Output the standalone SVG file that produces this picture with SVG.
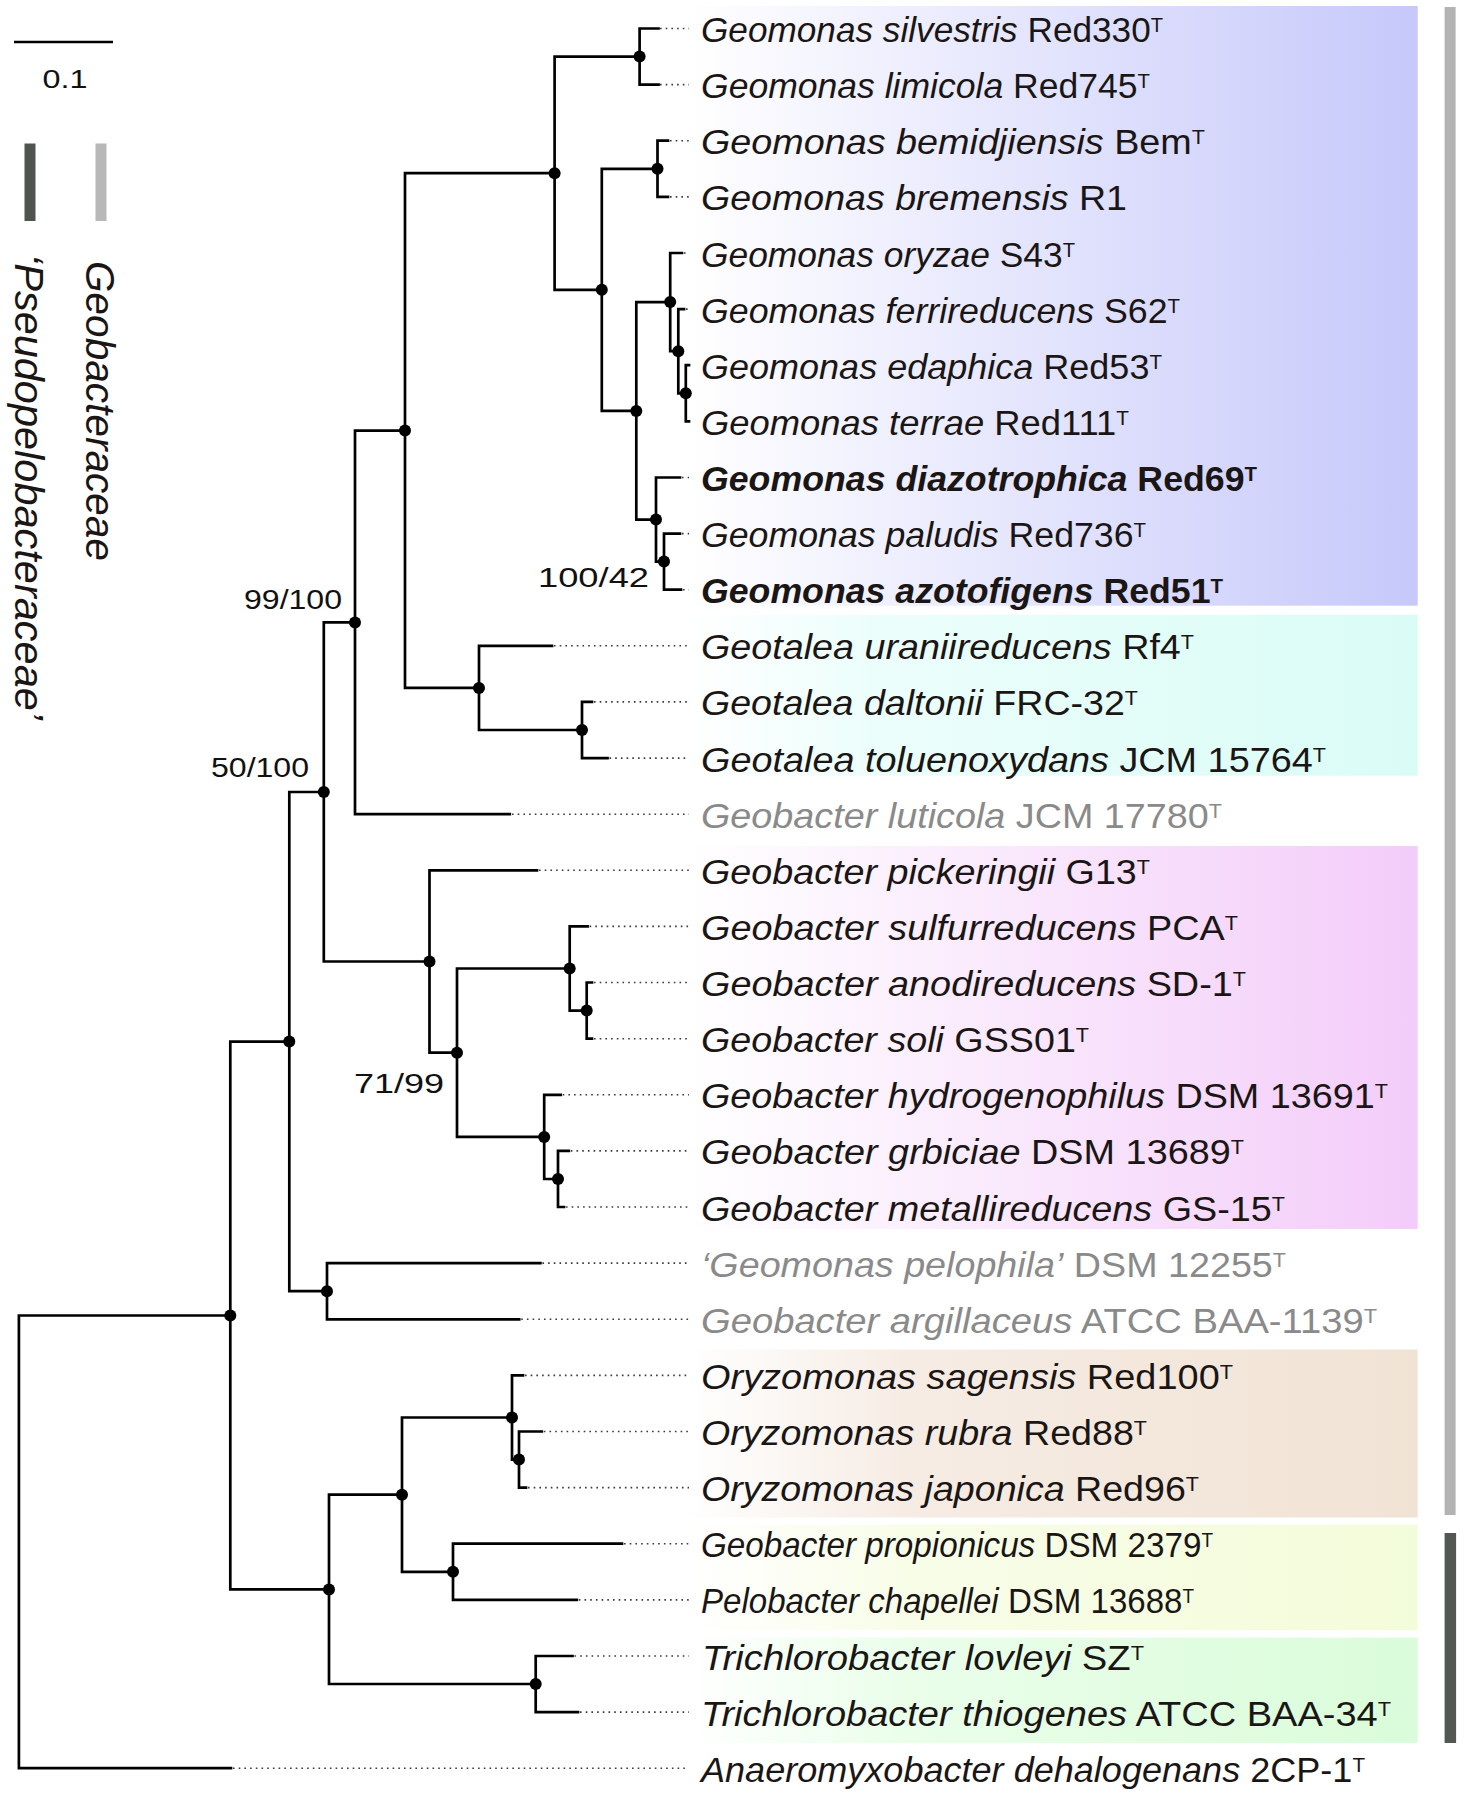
<svg xmlns="http://www.w3.org/2000/svg" width="1465" height="1797" viewBox="0 0 1465 1797">
<defs>
<linearGradient id="gBlue" x1="0" x2="1" y1="0" y2="0"><stop offset="0" stop-color="#ffffff"/><stop offset="1" stop-color="#c6c8fa"/></linearGradient>
<linearGradient id="gCyan" x1="0" x2="1" y1="0" y2="0"><stop offset="0" stop-color="#ffffff"/><stop offset="0.25" stop-color="#ecfefb"/><stop offset="1" stop-color="#dafcf6"/></linearGradient>
<linearGradient id="gPink" x1="0" x2="1" y1="0" y2="0"><stop offset="0" stop-color="#ffffff"/><stop offset="1" stop-color="#f3ccf9"/></linearGradient>
<linearGradient id="gTan" x1="0" x2="1" y1="0" y2="0"><stop offset="0" stop-color="#ffffff"/><stop offset="0.3" stop-color="#f6ece4"/><stop offset="1" stop-color="#f1e3d4"/></linearGradient>
<linearGradient id="gYel" x1="0" x2="1" y1="0" y2="0"><stop offset="0" stop-color="#ffffff"/><stop offset="0.3" stop-color="#f8fde8"/><stop offset="1" stop-color="#f3fcda"/></linearGradient>
<linearGradient id="gGrn" x1="0" x2="1" y1="0" y2="0"><stop offset="0" stop-color="#ffffff"/><stop offset="0.3" stop-color="#eafeea"/><stop offset="1" stop-color="#dafcda"/></linearGradient>
</defs>
<style>
.br{stroke:#000;stroke-width:2.7;fill:none;stroke-linecap:square}
.dt{stroke:#3a3a3a;stroke-width:1.6;stroke-dasharray:1.6 4.1;fill:none}
.nd{fill:#000}
.lb{font-family:"Liberation Sans",Arial,sans-serif;font-size:35px;fill:#1a1616}
.i{font-style:italic}
.sup{font-size:20px}
.gr{fill:#8a8a8a}
.bd{font-weight:bold}
.bs{font-family:"Liberation Sans",Arial,sans-serif;font-size:28px;fill:#111}
.fam{font-family:"Liberation Sans",Arial,sans-serif;font-size:40px;font-style:italic;fill:#1a1616}
</style>
<rect width="1465" height="1797" fill="#ffffff"/>

<g id="clade-backgrounds">
<rect x="686" y="6" width="731.7" height="599.7" fill="url(#gBlue)"/>
<rect x="686" y="614.8" width="731.7" height="160.9" fill="url(#gCyan)"/>
<rect x="686" y="846" width="731.7" height="383" fill="url(#gPink)"/>
<rect x="686" y="1349.5" width="731.7" height="168" fill="url(#gTan)"/>
<rect x="686" y="1524.6" width="731.7" height="105.4" fill="url(#gYel)"/>
<rect x="686" y="1637.6" width="731.7" height="105.4" fill="url(#gGrn)"/>
</g>

<g id="family-bars">
<rect x="1444.6" y="7" width="11" height="1508" fill="#b3b3b3"/>
<rect x="1444.6" y="1533" width="11.5" height="210" fill="#535854"/>
</g>

<g id="legend">
<g id="scale-bar">
<line x1="14" y1="42" x2="113" y2="42" stroke="#000" stroke-width="2.6"/>
<text class="bs" x="42.5" y="88" textLength="45" lengthAdjust="spacingAndGlyphs" style="font-size:25px">0.1</text>
</g>
<g id="legend-pseudopelobacteraceae">
<rect x="24.5" y="143.5" width="11" height="77.5" fill="#4f5450"/>
<text class="fam" transform="translate(15,254) rotate(90)" textLength="466" lengthAdjust="spacingAndGlyphs">‘Pseudopelobacteraceae’</text>
</g>
<g id="legend-geobacteraceae">
<rect x="95.5" y="143.5" width="11" height="77.5" fill="#b8b8b8"/>
<text class="fam" transform="translate(86,261) rotate(90)" textLength="300" lengthAdjust="spacingAndGlyphs">Geobacteraceae</text>
</g>
</g>

<g id="connectors">
<path class="br" d="M18.9,1315.5V1768.2M18.9,1315.5H230.3M18.9,1768.2H231"/>
<path class="br" d="M230.3,1041.6V1589.4M230.3,1041.6H289.3M230.3,1589.4H329"/>
<path class="br" d="M289.3,792V1291.2M289.3,792H323.8M289.3,1291.2H327"/>
<path class="br" d="M323.8,622.4V961.5M323.8,622.4H355M323.8,961.5H429.5"/>
<path class="br" d="M355,430.6V814.2M355,430.6H405M355,814.2H509.8"/>
<path class="br" d="M405,173.2V687.9M405,173.2H554.6M405,687.9H479"/>
<path class="br" d="M554.6,56.6V289.8M554.6,56.6H639.6M554.6,289.8H601.8"/>
<path class="br" d="M639.6,28.5V84.6M639.6,28.5H658.5M639.6,84.6H658.5"/>
<path class="br" d="M601.8,168.8V410.9M601.8,168.8H657.5M601.8,410.9H636.3"/>
<path class="br" d="M657.5,140.7V196.9M657.5,140.7H668M657.5,196.9H668"/>
<path class="br" d="M636.3,302.1V519.6M636.3,302.1H670.2M636.3,519.6H656"/>
<path class="br" d="M670.2,253V351.2M670.2,253H682M670.2,351.2H678.3"/>
<path class="br" d="M678.3,309.1V393.3M678.3,309.1H684M678.3,393.3H685.8"/>
<path class="br" d="M685.8,365.2V421.3M685.8,365.2H689M685.8,421.3H689"/>
<path class="br" d="M656,477.5V561.6M656,477.5H680M656,561.6H664"/>
<path class="br" d="M664,533.6V589.7M664,533.6H680M664,589.7H681"/>
<path class="br" d="M479,645.8V730M479,645.8H552M479,730H582"/>
<path class="br" d="M582,701.9V758.1M582,701.9H592M582,758.1H607.5"/>
<path class="br" d="M429.5,870.3V1052.7M429.5,870.3H537M429.5,1052.7H457"/>
<path class="br" d="M457,968.5V1136.9M457,968.5H569.7M457,1136.9H544.2"/>
<path class="br" d="M569.7,926.4V1010.6M569.7,926.4H587.6M569.7,1010.6H586.7"/>
<path class="br" d="M586.7,982.5V1038.7M586.7,982.5H592M586.7,1038.7H592"/>
<path class="br" d="M544.2,1094.8V1179M544.2,1094.8H560.7M544.2,1179H558"/>
<path class="br" d="M558,1150.9V1207M558,1150.9H568.8M558,1207H564"/>
<path class="br" d="M327,1263.1V1319.3M327,1263.1H540.4M327,1319.3H519.2"/>
<path class="br" d="M329,1494.7V1684M329,1494.7H402M329,1684H535.7"/>
<path class="br" d="M402,1417.5V1571.8M402,1417.5H512M402,1571.8H453"/>
<path class="br" d="M512,1375.4V1459.6M512,1375.4H523M512,1459.6H519"/>
<path class="br" d="M519,1431.5V1487.6M519,1431.5H541.8M519,1487.6H526"/>
<path class="br" d="M453,1543.7V1599.9M453,1543.7H622M453,1599.9H576.8"/>
<path class="br" d="M535.7,1656V1712.1M535.7,1656H572.5M535.7,1712.1H578"/>
<path class="dt" d="M660,28.5H689M660,84.6H689M670,140.7H689M670,196.9H689M684,253H689M686,309.1H689M682,477.5H689M682,533.6H689M683,589.7H689M554,645.8H689M594,701.9H689M609.5,758.1H689M512,814.2H689M539,870.3H689M589.6,926.4H689M594,982.5H689M594,1038.7H689M562.7,1094.8H689M570.8,1150.9H689M566,1207H689M542.4,1263.1H689M521.2,1319.3H689M525,1375.4H689M543.8,1431.5H689M528,1487.6H689M624,1543.7H689M578.8,1599.9H689M574.5,1656H689M580,1712.1H689M233,1768.2H689"/>
</g>

<g id="internal-nodes">
<g id="n-A"><circle class="nd" cx="230.3" cy="1315.5" r="6"/></g>
<g id="n-B"><circle class="nd" cx="289.3" cy="1041.6" r="6"/></g>
<g id="n-C"><circle class="nd" cx="323.8" cy="792" r="6"/><text class="bs" x="211" y="777" textLength="98" lengthAdjust="spacingAndGlyphs">50/100</text></g>
<g id="n-D"><circle class="nd" cx="355" cy="622.4" r="6"/><text class="bs" x="244" y="609" textLength="98" lengthAdjust="spacingAndGlyphs">99/100</text></g>
<g id="n-E"><circle class="nd" cx="405" cy="430.6" r="6"/></g>
<g id="n-F"><circle class="nd" cx="554.6" cy="173.2" r="6"/></g>
<g id="n-G"><circle class="nd" cx="639.6" cy="56.6" r="6"/></g>
<g id="n-H"><circle class="nd" cx="601.8" cy="289.8" r="6"/></g>
<g id="n-I"><circle class="nd" cx="657.5" cy="168.8" r="6"/></g>
<g id="n-J"><circle class="nd" cx="636.3" cy="410.9" r="6"/></g>
<g id="n-K"><circle class="nd" cx="670.2" cy="302.1" r="6"/></g>
<g id="n-L"><circle class="nd" cx="678.3" cy="351.2" r="6"/></g>
<g id="n-M"><circle class="nd" cx="685.8" cy="393.3" r="6"/></g>
<g id="n-N"><circle class="nd" cx="656" cy="519.6" r="6"/></g>
<g id="n-O"><circle class="nd" cx="664" cy="561.6" r="6"/><text class="bs" x="538" y="587" textLength="111" lengthAdjust="spacingAndGlyphs">100/42</text></g>
<g id="n-P"><circle class="nd" cx="479" cy="687.9" r="6"/></g>
<g id="n-Q"><circle class="nd" cx="582" cy="730" r="6"/></g>
<g id="n-R"><circle class="nd" cx="429.5" cy="961.5" r="6"/></g>
<g id="n-S"><circle class="nd" cx="457" cy="1052.7" r="6"/><text class="bs" x="354" y="1093" textLength="90" lengthAdjust="spacingAndGlyphs">71/99</text></g>
<g id="n-T"><circle class="nd" cx="569.7" cy="968.5" r="6"/></g>
<g id="n-U"><circle class="nd" cx="586.7" cy="1010.6" r="6"/></g>
<g id="n-V"><circle class="nd" cx="544.2" cy="1136.9" r="6"/></g>
<g id="n-W"><circle class="nd" cx="558" cy="1179" r="6"/></g>
<g id="n-X"><circle class="nd" cx="327" cy="1291.2" r="6"/></g>
<g id="n-Y"><circle class="nd" cx="329" cy="1589.4" r="6"/></g>
<g id="n-Z"><circle class="nd" cx="402" cy="1494.7" r="6"/></g>
<g id="n-AA"><circle class="nd" cx="512" cy="1417.5" r="6"/></g>
<g id="n-AB"><circle class="nd" cx="519" cy="1459.6" r="6"/></g>
<g id="n-AC"><circle class="nd" cx="453" cy="1571.8" r="6"/></g>
<g id="n-AD"><circle class="nd" cx="535.7" cy="1684" r="6"/></g>
</g>

<g id="leaves">
<g id="leaf-01"><text class="lb" x="701" y="42" textLength="462" lengthAdjust="spacingAndGlyphs"><tspan class="i">Geomonas silvestris</tspan> Red330<tspan class="sup" dy="-10">T</tspan></text></g>
<g id="leaf-02"><text class="lb" x="701" y="98.1" textLength="449" lengthAdjust="spacingAndGlyphs"><tspan class="i">Geomonas limicola</tspan> Red745<tspan class="sup" dy="-10">T</tspan></text></g>
<g id="leaf-03"><text class="lb" x="701" y="154.2" textLength="504" lengthAdjust="spacingAndGlyphs"><tspan class="i">Geomonas bemidjiensis</tspan> Bem<tspan class="sup" dy="-10">T</tspan></text></g>
<g id="leaf-04"><text class="lb" x="701" y="210.4" textLength="426" lengthAdjust="spacingAndGlyphs"><tspan class="i">Geomonas bremensis</tspan> R1</text></g>
<g id="leaf-05"><text class="lb" x="701" y="266.5" textLength="374" lengthAdjust="spacingAndGlyphs"><tspan class="i">Geomonas oryzae</tspan> S43<tspan class="sup" dy="-10">T</tspan></text></g>
<g id="leaf-06"><text class="lb" x="701" y="322.6" textLength="479" lengthAdjust="spacingAndGlyphs"><tspan class="i">Geomonas ferrireducens</tspan> S62<tspan class="sup" dy="-10">T</tspan></text></g>
<g id="leaf-07"><text class="lb" x="701" y="378.7" textLength="461" lengthAdjust="spacingAndGlyphs"><tspan class="i">Geomonas edaphica</tspan> Red53<tspan class="sup" dy="-10">T</tspan></text></g>
<g id="leaf-08"><text class="lb" x="701" y="434.8" textLength="428" lengthAdjust="spacingAndGlyphs"><tspan class="i">Geomonas terrae</tspan> Red111<tspan class="sup" dy="-10">T</tspan></text></g>
<g id="leaf-09"><text class="lb bd" x="701" y="491" textLength="556" lengthAdjust="spacingAndGlyphs"><tspan class="i">Geomonas diazotrophica</tspan> Red69<tspan class="sup" dy="-10">T</tspan></text></g>
<g id="leaf-10"><text class="lb" x="701" y="547.1" textLength="445" lengthAdjust="spacingAndGlyphs"><tspan class="i">Geomonas paludis</tspan> Red736<tspan class="sup" dy="-10">T</tspan></text></g>
<g id="leaf-11"><text class="lb bd" x="701" y="603.2" textLength="522" lengthAdjust="spacingAndGlyphs"><tspan class="i">Geomonas azotofigens</tspan> Red51<tspan class="sup" dy="-10">T</tspan></text></g>
<g id="leaf-12"><text class="lb" x="701" y="659.3" textLength="493" lengthAdjust="spacingAndGlyphs"><tspan class="i">Geotalea uraniireducens</tspan> Rf4<tspan class="sup" dy="-10">T</tspan></text></g>
<g id="leaf-13"><text class="lb" x="701" y="715.4" textLength="437" lengthAdjust="spacingAndGlyphs"><tspan class="i">Geotalea daltonii</tspan> FRC-32<tspan class="sup" dy="-10">T</tspan></text></g>
<g id="leaf-14"><text class="lb" x="701" y="771.6" textLength="625" lengthAdjust="spacingAndGlyphs"><tspan class="i">Geotalea toluenoxydans</tspan> JCM 15764<tspan class="sup" dy="-10">T</tspan></text></g>
<g id="leaf-15"><text class="lb gr" x="701" y="827.7" textLength="521" lengthAdjust="spacingAndGlyphs"><tspan class="i">Geobacter luticola</tspan> JCM 17780<tspan class="sup" dy="-10">T</tspan></text></g>
<g id="leaf-16"><text class="lb" x="701" y="883.8" textLength="449" lengthAdjust="spacingAndGlyphs"><tspan class="i">Geobacter pickeringii</tspan> G13<tspan class="sup" dy="-10">T</tspan></text></g>
<g id="leaf-17"><text class="lb" x="701" y="939.9" textLength="537" lengthAdjust="spacingAndGlyphs"><tspan class="i">Geobacter sulfurreducens</tspan> PCA<tspan class="sup" dy="-10">T</tspan></text></g>
<g id="leaf-18"><text class="lb" x="701" y="996" textLength="545" lengthAdjust="spacingAndGlyphs"><tspan class="i">Geobacter anodireducens</tspan> SD-1<tspan class="sup" dy="-10">T</tspan></text></g>
<g id="leaf-19"><text class="lb" x="701" y="1052.2" textLength="388" lengthAdjust="spacingAndGlyphs"><tspan class="i">Geobacter soli</tspan> GSS01<tspan class="sup" dy="-10">T</tspan></text></g>
<g id="leaf-20"><text class="lb" x="701" y="1108.3" textLength="687" lengthAdjust="spacingAndGlyphs"><tspan class="i">Geobacter hydrogenophilus</tspan> DSM 13691<tspan class="sup" dy="-10">T</tspan></text></g>
<g id="leaf-21"><text class="lb" x="701" y="1164.4" textLength="543" lengthAdjust="spacingAndGlyphs"><tspan class="i">Geobacter grbiciae</tspan> DSM 13689<tspan class="sup" dy="-10">T</tspan></text></g>
<g id="leaf-22"><text class="lb" x="701" y="1220.5" textLength="584" lengthAdjust="spacingAndGlyphs"><tspan class="i">Geobacter metallireducens</tspan> GS-15<tspan class="sup" dy="-10">T</tspan></text></g>
<g id="leaf-23"><text class="lb gr" x="701" y="1276.6" textLength="585" lengthAdjust="spacingAndGlyphs"><tspan class="i">‘Geomonas pelophila’</tspan> DSM 12255<tspan class="sup" dy="-10">T</tspan></text></g>
<g id="leaf-24"><text class="lb gr" x="701" y="1332.8" textLength="676" lengthAdjust="spacingAndGlyphs"><tspan class="i">Geobacter argillaceus</tspan> ATCC BAA-1139<tspan class="sup" dy="-10">T</tspan></text></g>
<g id="leaf-25"><text class="lb" x="701" y="1388.9" textLength="532" lengthAdjust="spacingAndGlyphs"><tspan class="i">Oryzomonas sagensis</tspan> Red100<tspan class="sup" dy="-10">T</tspan></text></g>
<g id="leaf-26"><text class="lb" x="701" y="1445" textLength="446" lengthAdjust="spacingAndGlyphs"><tspan class="i">Oryzomonas rubra</tspan> Red88<tspan class="sup" dy="-10">T</tspan></text></g>
<g id="leaf-27"><text class="lb" x="701" y="1501.1" textLength="498" lengthAdjust="spacingAndGlyphs"><tspan class="i">Oryzomonas japonica</tspan> Red96<tspan class="sup" dy="-10">T</tspan></text></g>
<g id="leaf-28"><text class="lb" x="701" y="1557.2" textLength="512" lengthAdjust="spacingAndGlyphs"><tspan class="i">Geobacter propionicus</tspan> DSM 2379<tspan class="sup" dy="-10">T</tspan></text></g>
<g id="leaf-29"><text class="lb" x="701" y="1613.4" textLength="493" lengthAdjust="spacingAndGlyphs"><tspan class="i">Pelobacter chapellei</tspan> DSM 13688<tspan class="sup" dy="-10">T</tspan></text></g>
<g id="leaf-30"><text class="lb" x="702" y="1669.5" textLength="442" lengthAdjust="spacingAndGlyphs"><tspan class="i">Trichlorobacter lovleyi</tspan> SZ<tspan class="sup" dy="-10">T</tspan></text></g>
<g id="leaf-31"><text class="lb" x="701" y="1725.6" textLength="690" lengthAdjust="spacingAndGlyphs"><tspan class="i">Trichlorobacter thiogenes</tspan> ATCC BAA-34<tspan class="sup" dy="-10">T</tspan></text></g>
<g id="leaf-32"><text class="lb" x="701" y="1781.7" textLength="664" lengthAdjust="spacingAndGlyphs"><tspan class="i">Anaeromyxobacter dehalogenans</tspan> 2CP-1<tspan class="sup" dy="-10">T</tspan></text></g>
</g>
</svg>
